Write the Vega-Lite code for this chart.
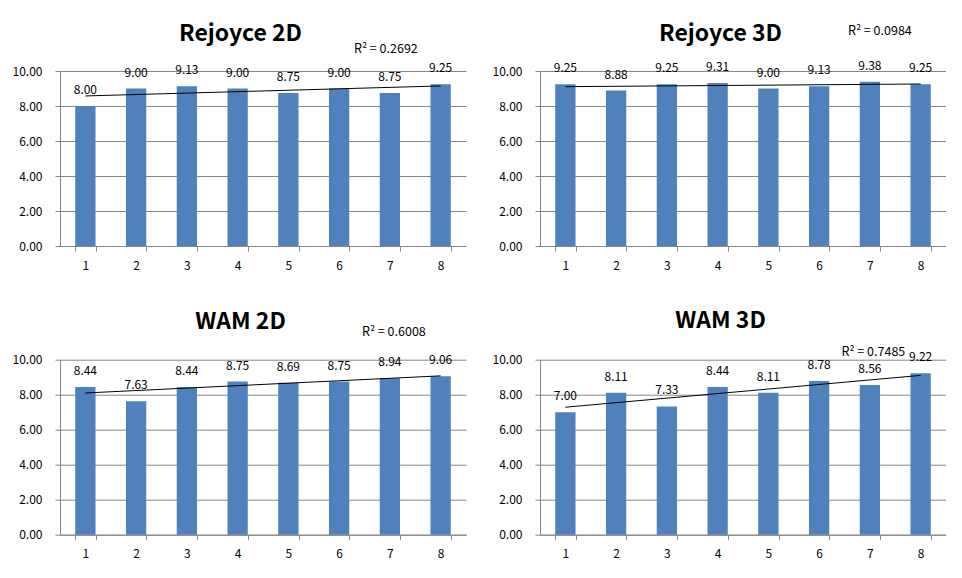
{
  "$schema": "https://vega.github.io/schema/vega-lite/v6.json",
  "padding": {"left": 12, "top": 22, "right": 0, "bottom": 0},
  "background": "white",
  "config": {
    "view": {"stroke": null},
    "font": "Noto Sans CJK KR",
    "axis": {"labelFont": "Noto Sans CJK KR", "labelFontSize": 12, "labelColor": "#000", "domainColor": "#868686", "tickColor": "#868686", "gridColor": "#868686", "tickSize": 5},
    "axisX": {"grid": false, "labelAngle": 0, "tickBand": "extent", "labelPadding": 9},
    "axisY": {"grid": true, "values": [0, 2, 4, 6, 8, 10], "format": ".2f", "labelPadding": 13},
    "title": {"fontSize": 23, "fontWeight": "bold", "font": "Noto Sans CJK KR", "color": "#000", "frame": "group", "anchor": "middle", "dx": -22.5, "baseline": "alphabetic"},
    "text": {"font": "Noto Sans CJK KR", "fontSize": 12.5, "color": "#000", "fontWeight": "normal"}
  },
  "datasets": {
    "r2d": [{"trial": 1, "score": 8.00}, {"trial": 2, "score": 9.00}, {"trial": 3, "score": 9.13}, {"trial": 4, "score": 9.00}, {"trial": 5, "score": 8.75}, {"trial": 6, "score": 9.00}, {"trial": 7, "score": 8.75}, {"trial": 8, "score": 9.25}],
    "r3d": [{"trial": 1, "score": 9.25}, {"trial": 2, "score": 8.88}, {"trial": 3, "score": 9.25}, {"trial": 4, "score": 9.31}, {"trial": 5, "score": 9.00}, {"trial": 6, "score": 9.13}, {"trial": 7, "score": 9.38}, {"trial": 8, "score": 9.25}],
    "w2d": [{"trial": 1, "score": 8.44}, {"trial": 2, "score": 7.63}, {"trial": 3, "score": 8.44}, {"trial": 4, "score": 8.75}, {"trial": 5, "score": 8.69}, {"trial": 6, "score": 8.75}, {"trial": 7, "score": 8.94}, {"trial": 8, "score": 9.06}],
    "w3d": [{"trial": 1, "score": 7.00}, {"trial": 2, "score": 8.11}, {"trial": 3, "score": 7.33}, {"trial": 4, "score": 8.44}, {"trial": 5, "score": 8.11}, {"trial": 6, "score": 8.78}, {"trial": 7, "score": 8.56}, {"trial": 8, "score": 9.22}]
  },
  "columns": 2,
  "spacing": {"row": 113.7, "column": 74},
  "bounds": "flush",
  "concat": [
    {
      "width": 406, "height": 175,
      "title": {"text": "Rejoyce 2D", "offset": -2.7},
      "data": {"name": "r2d"},
      "layer": [
        {"mark": {"type": "bar", "color": "#4F81BD"},
         "encoding": {"x": {"field": "trial", "type": "ordinal", "title": null, "scale": {"paddingInner": 0.6, "paddingOuter": 0.3}},
                      "y": {"field": "score", "type": "quantitative", "title": null, "scale": {"domain": [0, 10], "nice": false}}}},
        {"mark": {"type": "text", "baseline": "middle", "dy": -16, "fontSize": 12},
         "encoding": {"x": {"field": "trial", "type": "ordinal"}, "y": {"field": "score", "type": "quantitative"}, "text": {"field": "score", "type": "quantitative", "format": ".2f"}}},
        {"transform": [{"regression": "score", "on": "trial", "extent": [1, 8]}],
         "mark": {"type": "line", "color": "#000", "strokeWidth": 1},
         "encoding": {"x": {"field": "trial", "type": "ordinal"}, "y": {"field": "score", "type": "quantitative"}}},
        {"data": {"values": [{"label": "R² = 0.2692"}]},
         "mark": {"type": "text", "baseline": "middle", "dx": -4},
         "encoding": {"x": {"datum": 7, "type": "ordinal"}, "y": {"datum": 11.26, "type": "quantitative"}, "text": {"field": "label", "type": "nominal"}}}
      ]
    },
    {
      "width": 406, "height": 175,
      "title": {"text": "Rejoyce 3D", "offset": -20.7},
      "data": {"name": "r3d"},
      "layer": [
        {"mark": {"type": "bar", "color": "#4F81BD"},
         "encoding": {"x": {"field": "trial", "type": "ordinal", "title": null, "scale": {"paddingInner": 0.6, "paddingOuter": 0.3}},
                      "y": {"field": "score", "type": "quantitative", "title": null, "scale": {"domain": [0, 10], "nice": false}}}},
        {"mark": {"type": "text", "baseline": "middle", "dy": -16, "fontSize": 12},
         "encoding": {"x": {"field": "trial", "type": "ordinal"}, "y": {"field": "score", "type": "quantitative"}, "text": {"field": "score", "type": "quantitative", "format": ".2f"}}},
        {"transform": [{"regression": "score", "on": "trial", "extent": [1, 8]}],
         "mark": {"type": "line", "color": "#000", "strokeWidth": 1},
         "encoding": {"x": {"field": "trial", "type": "ordinal"}, "y": {"field": "score", "type": "quantitative"}}},
        {"data": {"values": [{"label": "R² = 0.0984"}]},
         "mark": {"type": "text", "baseline": "middle", "dx": 10},
         "encoding": {"x": {"datum": 7, "type": "ordinal"}, "y": {"datum": 12.29, "type": "quantitative"}, "text": {"field": "label", "type": "nominal"}}}
      ]
    },
    {
      "width": 406, "height": 175,
      "title": {"text": "WAM 2D", "offset": -7.7},
      "data": {"name": "w2d"},
      "layer": [
        {"mark": {"type": "bar", "color": "#4F81BD"},
         "encoding": {"x": {"field": "trial", "type": "ordinal", "title": null, "scale": {"paddingInner": 0.6, "paddingOuter": 0.3}},
                      "y": {"field": "score", "type": "quantitative", "title": null, "scale": {"domain": [0, 10], "nice": false}}}},
        {"mark": {"type": "text", "baseline": "middle", "dy": -16, "fontSize": 12},
         "encoding": {"x": {"field": "trial", "type": "ordinal"}, "y": {"field": "score", "type": "quantitative"}, "text": {"field": "score", "type": "quantitative", "format": ".2f"}}},
        {"transform": [{"regression": "score", "on": "trial", "extent": [1, 8]}],
         "mark": {"type": "line", "color": "#000", "strokeWidth": 1},
         "encoding": {"x": {"field": "trial", "type": "ordinal"}, "y": {"field": "score", "type": "quantitative"}}},
        {"data": {"values": [{"label": "R² = 0.6008"}]},
         "mark": {"type": "text", "baseline": "middle", "dx": 4},
         "encoding": {"x": {"datum": 7, "type": "ordinal"}, "y": {"datum": 11.58, "type": "quantitative"}, "text": {"field": "label", "type": "nominal"}}}
      ]
    },
    {
      "width": 406, "height": 175,
      "title": {"text": "WAM 3D", "offset": 13},
      "data": {"name": "w3d"},
      "layer": [
        {"mark": {"type": "bar", "color": "#4F81BD"},
         "encoding": {"x": {"field": "trial", "type": "ordinal", "title": null, "scale": {"paddingInner": 0.6, "paddingOuter": 0.3}},
                      "y": {"field": "score", "type": "quantitative", "title": null, "scale": {"domain": [0, 10], "nice": false}}}},
        {"mark": {"type": "text", "baseline": "middle", "dy": -16, "fontSize": 12},
         "encoding": {"x": {"field": "trial", "type": "ordinal"}, "y": {"field": "score", "type": "quantitative"}, "text": {"field": "score", "type": "quantitative", "format": ".2f"}}},
        {"transform": [{"regression": "score", "on": "trial", "extent": [1, 8]}],
         "mark": {"type": "line", "color": "#000", "strokeWidth": 1},
         "encoding": {"x": {"field": "trial", "type": "ordinal"}, "y": {"field": "score", "type": "quantitative"}}},
        {"data": {"values": [{"label": "R² = 0.7485"}]},
         "mark": {"type": "text", "baseline": "middle", "dx": 3.5},
         "encoding": {"x": {"datum": 7, "type": "ordinal"}, "y": {"datum": 10.42, "type": "quantitative"}, "text": {"field": "label", "type": "nominal"}}}
      ]
    }
  ]
}
